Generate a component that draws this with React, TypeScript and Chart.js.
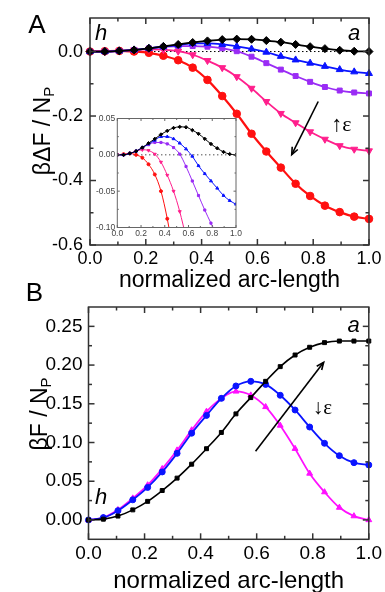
import React, { useEffect, useRef } from 'react';
import { Chart, registerables } from 'chart.js';

Chart.register(...registerables);

// ---------------- data ----------------
const ARC_LENGTH = [0, 0.053, 0.105, 0.158, 0.211, 0.263, 0.316, 0.368, 0.421, 0.474, 0.526, 0.579, 0.632, 0.684, 0.737, 0.789, 0.842, 0.895, 0.947, 1.0];

const A_BLACK = [0, 0, 0.002, 0.005, 0.010, 0.016, 0.022, 0.028, 0.033, 0.037, 0.0385, 0.038, 0.034, 0.029, 0.022, 0.015, 0.009, 0.004, 0.001, 0];
const A_BLUE = [0, 0, 0.002, 0.005, 0.010, 0.015, 0.020, 0.025, 0.025, 0.022, 0.016, 0.008, -0.002, -0.015, -0.026, -0.036, -0.046, -0.056, -0.063, -0.068];
const A_VIOLET = [0, 0, 0.002, 0.005, 0.010, 0.014, 0.017, 0.017, 0.015, 0.010, 0.001, -0.016, -0.036, -0.056, -0.076, -0.094, -0.110, -0.121, -0.127, -0.130];
const A_PINK = [0, 0, 0.002, 0.005, 0.007, 0.006, 0.001, -0.010, -0.028, -0.050, -0.078, -0.114, -0.155, -0.192, -0.221, -0.249, -0.272, -0.292, -0.303, -0.308];
const A_RED = [0, 0.001, 0.002, 0.000, -0.004, -0.013, -0.027, -0.050, -0.088, -0.138, -0.193, -0.255, -0.310, -0.360, -0.410, -0.448, -0.478, -0.498, -0.512, -0.519];

const B_BLACK = [0, 0.001, 0.005, 0.013, 0.024, 0.038, 0.054, 0.072, 0.092, 0.113, 0.137, 0.158, 0.179, 0.198, 0.213, 0.223, 0.229, 0.231, 0.231, 0.231];
const B_BLUE = [0, 0.003, 0.012, 0.026, 0.042, 0.062, 0.086, 0.112, 0.135, 0.157, 0.173, 0.179, 0.175, 0.161, 0.142, 0.120, 0.099, 0.083, 0.074, 0.071];
const B_MAGENTA = [0, 0.003, 0.013, 0.028, 0.045, 0.066, 0.090, 0.116, 0.140, 0.157, 0.166, 0.161, 0.146, 0.122, 0.092, 0.060, 0.036, 0.016, 0.005, 0];

// ---------------- ticks ----------------
const X_TICKS = [0, 0.2, 0.4, 0.6, 0.8, 1.0];
const X_MINOR = [0.1, 0.3, 0.5, 0.7, 0.9];
const A_Y_TICKS = [-0.6, -0.4, -0.2, 0.0];
const A_Y_MINOR = [-0.5, -0.3, -0.1];
const INSET_Y_TICKS = [-0.1, -0.05, 0.0, 0.05];
const INSET_Y_MINOR = [-0.075, -0.025, 0.025];
const B_Y_TICKS = [0, 0.05, 0.1, 0.15, 0.2, 0.25];
const B_Y_MINOR = [0.025, 0.075, 0.125, 0.175, 0.225];

const SANS = "'Liberation Sans', Arial, sans-serif";
const SERIF = "'Liberation Serif', 'DejaVu Serif', serif";

// ---------------- plugins ----------------
const framePlugin = {
  id: 'frameTicks',
  beforeDatasetsDraw(chart: any, _a: any, o: any) {
    const { ctx, chartArea: { left, right, top, bottom }, scales: { y } } = chart;
    ctx.save();
    if (o.fill) {
      ctx.fillStyle = o.fill;
      ctx.fillRect(left, top, right - left, bottom - top);
    }
    if (o.zeroLine) {
      const py = y.getPixelForValue(0);
      ctx.strokeStyle = '#000';
      ctx.lineWidth = o.zeroWidth || 1;
      ctx.setLineDash(o.zeroDash || [1.5, 2.5]);
      ctx.beginPath();
      ctx.moveTo(left, py);
      ctx.lineTo(right, py);
      ctx.stroke();
    }
    ctx.restore();
  },
  afterDatasetsDraw(chart: any, _a: any, o: any) {
    const { ctx, chartArea: { left, right, top, bottom }, scales: { x, y } } = chart;
    ctx.save();
    ctx.strokeStyle = o.color;
    ctx.lineWidth = o.lineWidth;
    ctx.strokeRect(left, top, right - left, bottom - top);
    const seg = (x1: number, y1: number, x2: number, y2: number) => {
      ctx.beginPath();
      ctx.moveTo(x1, y1);
      ctx.lineTo(x2, y2);
      ctx.stroke();
    };
    const xs = (vals: number[], len: number) =>
      vals.forEach((v) => {
        const p = x.getPixelForValue(v);
        seg(p, bottom, p, bottom - len);
        seg(p, top, p, top + len);
      });
    const ys = (vals: number[], len: number) =>
      vals.forEach((v) => {
        const p = y.getPixelForValue(v);
        seg(left, p, left + len, p);
        seg(right, p, right - len, p);
      });
    xs(o.xMajor, o.majorLen);
    xs(o.xMinor, o.minorLen);
    ys(o.yMajor, o.majorLen);
    ys(o.yMinor, o.minorLen);
    ctx.restore();
  },
};

const notesPlugin = {
  id: 'notes',
  afterDraw(chart: any, _a: any, o: any) {
    const { ctx, scales: { x, y } } = chart;
    ctx.save();
    ctx.fillStyle = '#000';
    ctx.strokeStyle = '#000';
    (o.arrows || []).forEach((a: any) => {
      const x1 = x.getPixelForValue(a.x1), y1 = y.getPixelForValue(a.y1);
      const x2 = x.getPixelForValue(a.x2), y2 = y.getPixelForValue(a.y2);
      ctx.lineWidth = 1.6;
      ctx.beginPath();
      ctx.moveTo(x1, y1);
      ctx.lineTo(x2, y2);
      ctx.stroke();
      const ang = Math.atan2(y2 - y1, x2 - x1);
      const h = 8;
      ctx.beginPath();
      ctx.moveTo(x2 - h * Math.cos(ang - 0.4), y2 - h * Math.sin(ang - 0.4));
      ctx.lineTo(x2, y2);
      ctx.lineTo(x2 - h * Math.cos(ang + 0.4), y2 - h * Math.sin(ang + 0.4));
      ctx.stroke();
    });
    (o.texts || []).forEach((t: any) => {
      ctx.font = t.font;
      ctx.textAlign = t.align || 'left';
      ctx.textBaseline = t.baseline || 'alphabetic';
      const px = t.px ? t.x : x.getPixelForValue(t.x);
      const py = t.px ? t.y : y.getPixelForValue(t.y);
      ctx.fillText(t.text, px, py);
    });
    if (o.yTitle) {
      const t = o.yTitle;
      ctx.translate(t.x, t.y);
      ctx.rotate(-Math.PI / 2);
      ctx.textAlign = 'left';
      ctx.textBaseline = 'alphabetic';
      ctx.font = `${t.size}px ${SANS}`;
      const mw = ctx.measureText(t.main).width;
      ctx.font = `${t.subSize}px ${SANS}`;
      const sw = ctx.measureText(t.sub).width;
      const start = -(mw + sw) / 2;
      ctx.font = `${t.size}px ${SANS}`;
      ctx.fillText(t.main, start, 0);
      ctx.font = `${t.subSize}px ${SANS}`;
      ctx.fillText(t.sub, start + mw, t.subShift);
    }
    ctx.restore();
  },
};

// ---------------- helpers ----------------
function series(values: number[], color: string, style: string, radius: number, width: number, rotation = 0, clip: any = 8) {
  return {
    data: ARC_LENGTH.map((x, i) => ({ x, y: values[i] })),
    borderColor: color,
    backgroundColor: color,
    pointBackgroundColor: color,
    pointBorderColor: color,
    pointBorderWidth: 1,
    pointStyle: style,
    pointRadius: radius,
    pointRotation: rotation,
    borderWidth: width,
    cubicInterpolationMode: 'monotone',
    clip,
  };
}

function xScale(fontSize: number, padding: number, height: number, title: any, ticks: number[], decimals: number, color = '#000') {
  return {
    type: 'linear',
    min: 0,
    max: 1,
    grid: { display: false, drawTicks: false },
    border: { display: false },
    afterBuildTicks: (s: any) => {
      s.ticks = ticks.map((value) => ({ value }));
    },
    afterFit: (s: any) => {
      s.height = height;
    },
    ticks: {
      padding,
      color,
      autoSkip: false,
      maxRotation: 0,
      font: { family: SANS, size: fontSize },
      callback: (v: any) => Number(v).toFixed(decimals),
    },
    title: title || { display: false },
  };
}

function yScale(min: number, max: number, fontSize: number, padding: number, width: number, ticks: number[], decimals: number, color = '#000') {
  return {
    type: 'linear',
    min,
    max,
    grid: { display: false, drawTicks: false },
    border: { display: false },
    afterBuildTicks: (s: any) => {
      s.ticks = ticks.map((value) => ({ value }));
    },
    afterFit: (s: any) => {
      s.width = width;
    },
    ticks: {
      padding,
      color,
      autoSkip: false,
      font: { family: SANS, size: fontSize },
      callback: (v: any) => Number(v).toFixed(decimals),
    },
  };
}

function useChart(ref: React.RefObject<HTMLCanvasElement>, make: () => any) {
  useEffect(() => {
    if (!ref.current) return;
    const chart = new Chart(ref.current, make());
    return () => chart.destroy();
  }, []);
}

const baseOpts = {
  animation: false,
  responsive: false,
  maintainAspectRatio: false,
  events: [],
};

export default function App() {
  const aRef = useRef<HTMLCanvasElement>(null);
  const insetRef = useRef<HTMLCanvasElement>(null);
  const bRef = useRef<HTMLCanvasElement>(null);

  useChart(aRef, () => ({
    type: 'line',
    data: {
      datasets: [
        series(A_BLACK, '#000000', 'rectRot', 4, 1.8),
        series(A_BLUE, '#0a14ff', 'triangle', 4, 1.8),
        series(A_VIOLET, '#9a2cf5', 'rect', 3.5, 1.8),
        series(A_PINK, '#ff1f8c', 'triangle', 4, 1.8, 180),
        series(A_RED, '#ff1010', 'circle', 3.8, 2.2),
      ],
    },
    options: {
      ...baseOpts,
      layout: { padding: { left: 0, top: 18, right: 16, bottom: 0 } },
      plugins: {
        legend: { display: false },
        tooltip: { enabled: false },
        frameTicks: { color: '#333', lineWidth: 1.5, majorLen: 6, minorLen: 3.5, xMajor: X_TICKS, xMinor: X_MINOR, yMajor: A_Y_TICKS, yMinor: A_Y_MINOR, zeroLine: true },
        notes: {
          arrows: [{ x1: 0.818, y1: -0.155, x2: 0.723, y2: -0.32 }],
          texts: [
            { text: 'h', x: 0.018, y: 0.036, font: `italic 22px ${SANS}` },
            { text: 'a', x: 0.925, y: 0.036, font: `italic 22px ${SANS}` },
            { text: '↑ε', x: 0.865, y: -0.246, font: `22px ${SERIF}` },
            { text: 'A', x: 37, y: 26, px: true, align: 'center', baseline: 'middle', font: `26px ${SANS}` },
          ],
          yTitle: { main: 'βΔF / N', sub: 'P', x: 50, y: 131, size: 23, subSize: 15, subShift: 4 },
        },
      },
      scales: {
        x: xScale(18, 3, 50, { display: true, text: 'normalized arc-length', color: '#000', font: { family: SANS, size: 23 }, padding: { top: 0, bottom: 1 } }, X_TICKS, 1),
        y: yScale(-0.6, 0.104, 18, 7, 90, A_Y_TICKS, 1),
      },
    },
    plugins: [framePlugin, notesPlugin],
  }));

  useChart(insetRef, () => ({
    type: 'line',
    data: {
      datasets: [
        series(A_BLACK, '#000000', 'rectRot', 1.7, 1, 0, true),
        series(A_BLUE, '#0a14ff', 'triangle', 1.7, 1, 0, true),
        series(A_VIOLET, '#9a2cf5', 'rect', 1.5, 1, 0, true),
        series(A_PINK, '#ff1f8c', 'triangle', 1.7, 1, 180, true),
        series(A_RED, '#ff1010', 'circle', 1.5, 1, 0, true),
      ],
    },
    options: {
      ...baseOpts,
      layout: { padding: { left: 0, top: 13.5, right: 14, bottom: 0 } },
      plugins: {
        legend: { display: false },
        tooltip: { enabled: false },
        frameTicks: { color: '#666', lineWidth: 1, majorLen: 2.5, minorLen: 1.5, xMajor: X_TICKS, xMinor: X_MINOR, yMajor: INSET_Y_TICKS, yMinor: INSET_Y_MINOR, zeroLine: true, zeroDash: [1, 3], fill: '#fff' },
      },
      scales: {
        x: xScale(8.5, 1, 17.5, null, X_TICKS, 1, '#444'),
        y: yScale(-0.1, 0.05, 8.5, 2, 37.3, INSET_Y_TICKS, 2, '#444'),
      },
    },
    plugins: [framePlugin],
  }));

  useChart(bRef, () => ({
    type: 'line',
    data: {
      datasets: [
        series(B_BLACK, '#000000', 'rect', 2.8, 1.6),
        series(B_BLUE, '#0a14ff', 'circle', 3, 1.8),
        series(B_MAGENTA, '#ff10ff', 'triangle', 3.4, 1.8),
      ],
    },
    options: {
      ...baseOpts,
      layout: { padding: { left: 0, top: 32, right: 14.3, bottom: 0 } },
      plugins: {
        legend: { display: false },
        tooltip: { enabled: false },
        frameTicks: { color: '#333', lineWidth: 1.5, majorLen: 6, minorLen: 3.5, xMajor: X_TICKS, xMinor: X_MINOR, yMajor: B_Y_TICKS, yMinor: B_Y_MINOR },
        notes: {
          arrows: [{ x1: 0.596, y1: 0.0886, x2: 0.839, y2: 0.2036 }],
          texts: [
            { text: 'h', x: 0.023, y: 0.021, font: `italic 22px ${SANS}` },
            { text: 'a', x: 0.924, y: 0.243, font: `italic 22px ${SANS}` },
            { text: '↓ε', x: 0.80, y: 0.137, font: `21px ${SERIF}` },
            { text: 'B', x: 34.5, y: 18.5, px: true, align: 'center', baseline: 'middle', font: `26px ${SANS}` },
          ],
          yTitle: { main: 'βF / N', sub: 'P', x: 47, y: 139, size: 23, subSize: 15, subShift: 4 },
        },
      },
      scales: {
        x: xScale(19, 3, 52.7, { display: true, text: 'normalized arc-length', color: '#000', font: { family: SANS, size: 24 }, padding: { top: 0, bottom: -4 } }, X_TICKS, 1),
        y: yScale(-0.025, 0.275, 19, 6, 88.5, B_Y_TICKS, 2),
      },
    },
    plugins: [framePlugin, notesPlugin],
  }));

  return (
    <div style={{ position: 'absolute', left: 0, top: 0, width: 385, height: 592, background: '#fff', overflow: 'hidden' }}>
      <canvas ref={aRef} width={385} height={295} style={{ position: 'absolute', left: 0, top: 0, width: 385, height: 295 }} />
      <canvas ref={insetRef} width={170} height={140} style={{ position: 'absolute', left: 80, top: 105, width: 170, height: 140 }} />
      <canvas ref={bRef} width={385} height={317} style={{ position: 'absolute', left: 0, top: 275, width: 385, height: 317 }} />
    </div>
  );
}
